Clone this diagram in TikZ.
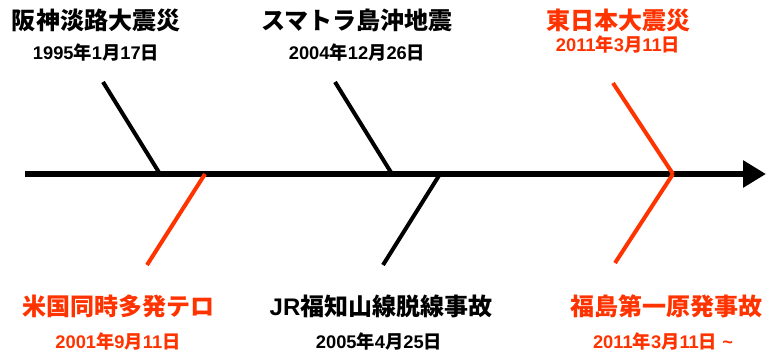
\documentclass[tikz,border=0pt]{standalone}
\usepackage{fontspec}
\setmainfont{Liberation Sans}
\newfontfamily\cjk{Noto Sans CJK JP}
\usetikzlibrary{arrows.meta}
\definecolor{accent}{HTML}{FF3300}
\newcommand\ymd[3]{#1{\cjk 年}#2{\cjk 月}#3{\cjk 日}}
\begin{document}
\begin{tikzpicture}[x=1pt,y=-1pt,
  title/.style={font=\fontsize{24}{26}\selectfont\bfseries\cjk, inner sep=0pt, anchor=center},
  datelbl/.style={font=\fontsize{18.3}{20}\selectfont\bfseries, inner sep=0pt, anchor=center},
  bone/.style={line width=4pt},
  spine/.style={line width=6pt, -{Triangle[length=23pt,width=26pt]}}]
\useasboundingbox (0,0) rectangle (767,355);
% spine
\coordinate (s0) at (25,174);
\coordinate (s1) at (766,174);
\draw[spine] (s0) -- (s1);
% bones
\coordinate (a1) at (103,82);  \coordinate (a2) at (160,174);
\coordinate (b1) at (205,174); \coordinate (b2) at (147,265);
\coordinate (c1) at (335,82);  \coordinate (c2) at (392,174);
\coordinate (d1) at (440,174); \coordinate (d2) at (383,265);
\coordinate (e1) at (613,83);  \coordinate (e2) at (673,174);
\coordinate (f1) at (673,174); \coordinate (f2) at (615,263);
\draw[bone] (a1) -- (a2);
\draw[bone,accent] (b1) -- (b2);
\draw[bone] (c1) -- (c2);
\draw[bone] (d1) -- (d2);
\draw[bone,accent] (e1) -- (e2);
\draw[bone,accent] (f1) -- (f2);
% labels
\node[title] (t1) at (96,20) {阪神淡路大震災};
\node[datelbl] (d1l) at (96,53) {\ymd{1995}{1}{17}};
\node[title] (t2) at (357,20) {スマトラ島沖地震};
\node[datelbl] (d2l) at (357,53) {\ymd{2004}{12}{26}};
\node[title,accent] (t3) at (618,20) {東日本大震災};
\node[datelbl,accent] (d3l) at (618,45) {\ymd{2011}{3}{11}};
\node[title,accent] (t4) at (118,306) {米国同時多発テロ};
\node[datelbl,accent] (d4l) at (118,342) {\ymd{2001}{9}{11}};
\node[title] (t5) at (381,306) {{\fontspec{Liberation Sans}\bfseries JR}福知山線脱線事故};
\node[datelbl] (d5l) at (379,342) {\ymd{2005}{4}{25}};
\node[title,accent] (t6) at (666,306) {福島第一原発事故};
\node[datelbl,accent] (d6l) at (663,342) {\ymd{2011}{3}{11} \char"007E};
\end{tikzpicture}
\end{document}
